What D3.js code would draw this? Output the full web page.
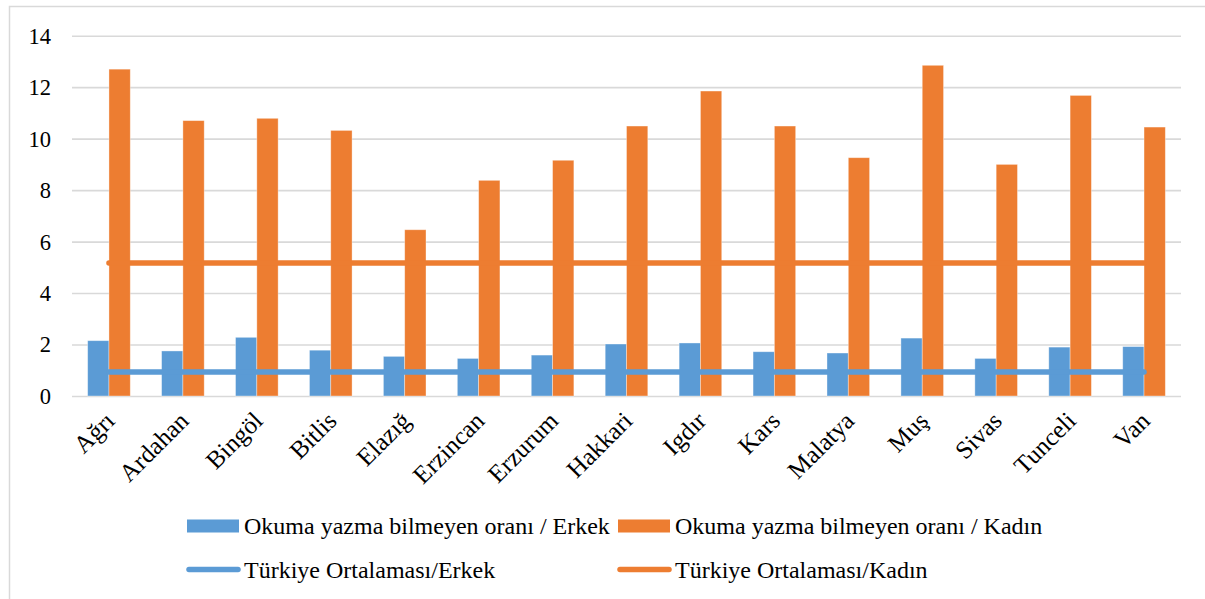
<!DOCTYPE html>
<html>
<head>
<meta charset="utf-8">
<script src="https://cdn.jsdelivr.net/npm/d3@7"></script>
<style>
  body { margin: 0; background: #fff; }
  svg text { font-family: "Liberation Serif", "Times New Roman", serif; fill: #000; }
</style>
</head>
<body>
<div id="chart"></div>
<script>
// data
var provinces = ["Ağrı", "Ardahan", "Bingöl", "Bitlis", "Elazığ", "Erzincan", "Erzurum", "Hakkari", "Igdır", "Kars", "Malatya", "Muş", "Sivas", "Tunceli", "Van"];
var erkek = [2.15, 1.75, 2.28, 1.78, 1.54, 1.46, 1.59, 2.02, 2.06, 1.72, 1.67, 2.25, 1.46, 1.90, 1.92];
var kadin = [12.70, 10.70, 10.79, 10.32, 6.46, 8.38, 9.16, 10.49, 11.85, 10.49, 9.26, 12.85, 9.00, 11.68, 10.45];
var turkiyeErkek = provinces.map(function () { return 0.93; });
var turkiyeKadin = provinces.map(function () { return 5.17; });
var yTicks = [0, 2, 4, 6, 8, 10, 12, 14];

var seriesNames = ["Okuma yazma bilmeyen oranı / Erkek", "Okuma yazma bilmeyen oranı / Kadın",
                   "Türkiye Ortalaması/Erkek", "Türkiye Ortalaması/Kadın"];
var blue = "#5b9bd5", orange = "#ed7d31";
var serif = "'Liberation Serif', 'Times New Roman', serif";

var W = 1205, H = 599;
var plotLeft = 72, plotRight = 1181, plotTop = 35.7, plotBottom = 396;

var svg = d3.select("#chart").append("svg")
  .attr("width", W).attr("height", H);

// outer chart border
svg.append("rect")
  .attr("x", 9.5).attr("y", 6.5)
  .attr("width", 1220).attr("height", 620)
  .attr("fill", "#fff")
  .attr("stroke", "#d9d9d9").attr("stroke-width", 1.5);

var x = d3.scaleBand().domain(provinces).range([plotLeft, plotRight]).padding(0);
var x1 = d3.scaleBand().domain(["erkek", "kadin"])
  .range([0, x.bandwidth()]).paddingInner(0).paddingOuter(0.735);
var y = d3.scaleLinear().domain([0, 14]).range([plotBottom, plotTop]);

// gridlines + y labels
var yAxis = d3.axisLeft(y).tickValues(yTicks).tickSize(-(plotRight - plotLeft)).tickPadding(21);
var gy = svg.append("g")
  .attr("transform", "translate(" + plotLeft + ",0)")
  .call(yAxis)
  .attr("font-family", serif);
gy.select(".domain").remove();
gy.selectAll(".tick line").attr("stroke", "#d9d9d9").attr("stroke-width", 1.6);
gy.selectAll(".tick text")
  .style("font-size", "22.5px")
  .attr("dy", "0.33em");

// bars
var groups = svg.append("g").selectAll("g")
  .data(provinces)
  .enter().append("g")
  .attr("transform", function (d) { return "translate(" + x(d) + ",0)"; });

groups.append("rect")
  .attr("x", x1("erkek"))
  .attr("width", x1.bandwidth())
  .attr("y", function (d, i) { return y(erkek[i]); })
  .attr("height", function (d, i) { return y(0) - y(erkek[i]); })
  .attr("fill", blue)
  .attr("stroke", "#fff").attr("stroke-opacity", 0.45).attr("stroke-width", 0.8);

groups.append("rect")
  .attr("x", x1("kadin"))
  .attr("width", x1.bandwidth())
  .attr("y", function (d, i) { return y(kadin[i]); })
  .attr("height", function (d, i) { return y(0) - y(kadin[i]); })
  .attr("fill", orange)
  .attr("stroke", "#fff").attr("stroke-opacity", 0.45).attr("stroke-width", 0.8);

// average lines
var line = d3.line()
  .x(function (d, i) { return x(provinces[i]) + x.bandwidth() / 2; })
  .y(function (d) { return y(d); });

svg.append("path").datum(turkiyeErkek)
  .attr("d", line).attr("fill", "none")
  .attr("stroke", blue).attr("stroke-width", 5.5).attr("stroke-linecap", "round");
svg.append("path").datum(turkiyeKadin)
  .attr("d", line).attr("fill", "none")
  .attr("stroke", orange).attr("stroke-width", 5.5).attr("stroke-linecap", "round");

// x labels, rotated
svg.append("g").attr("font-family", serif).selectAll("text")
  .data(provinces)
  .enter().append("text")
  .attr("transform", function (d) {
    return "translate(" + (x(d) + x.bandwidth() / 2 + 2) + "," + 417 + ") rotate(-45)";
  })
  .attr("text-anchor", "end")
  .attr("dy", "0.3em")
  .style("font-size", "25px")
  .text(function (d) { return d; });

// legend
var legendItems = [
  { name: seriesNames[0], color: blue, type: "rect", x: 187, y: 526 },
  { name: seriesNames[1], color: orange, type: "rect", x: 618, y: 526 },
  { name: seriesNames[2], color: blue, type: "line", x: 187, y: 569.5 },
  { name: seriesNames[3], color: orange, type: "line", x: 618, y: 569.5 }
];
var lg = svg.append("g").attr("font-family", serif).selectAll("g")
  .data(legendItems)
  .enter().append("g")
  .attr("transform", function (d) { return "translate(" + d.x + "," + d.y + ")"; });

lg.filter(function (d) { return d.type === "rect"; })
  .append("rect")
  .attr("x", 0).attr("y", -6.5).attr("width", 52).attr("height", 13)
  .attr("fill", function (d) { return d.color; });

lg.filter(function (d) { return d.type === "line"; })
  .append("line")
  .attr("x1", 2).attr("x2", 51).attr("y1", 0).attr("y2", 0)
  .attr("stroke", function (d) { return d.color; })
  .attr("stroke-width", 5.5).attr("stroke-linecap", "round");

lg.append("text")
  .attr("x", 57)
  .attr("y", 8)
  .style("font-size", "24px")
  .text(function (d) { return d.name; });
</script>
</body>
</html>
